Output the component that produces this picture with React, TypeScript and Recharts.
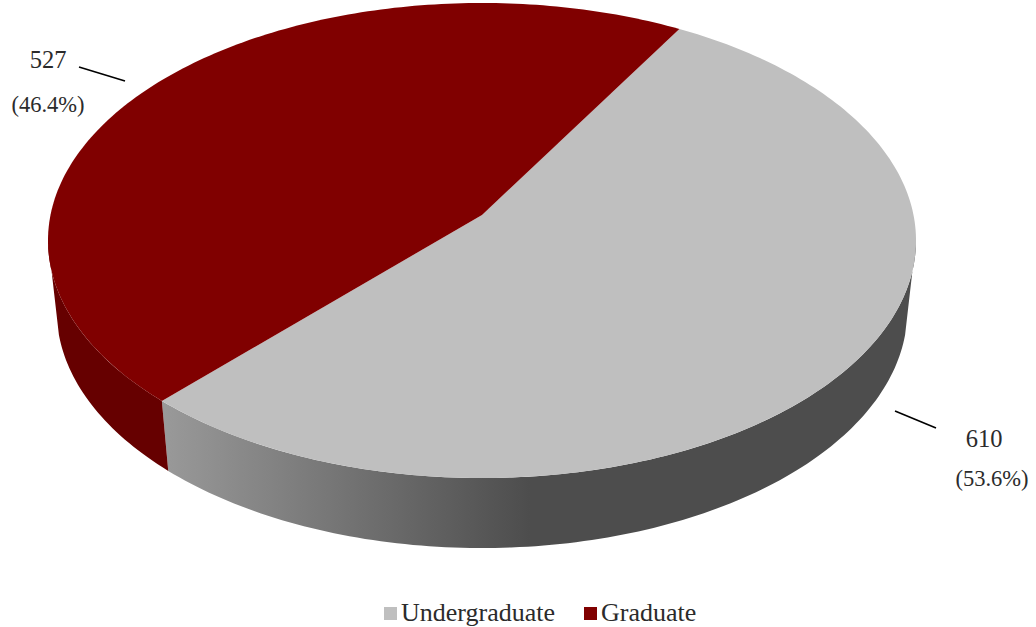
import { Legend, Pie, PieChart } from "recharts";

const categories = ["Undergraduate", "Graduate"];
const counts = [610, 527];
const percentLabels = ["(53.6%)", "(46.4%)"];
const COLORS = ["#bfbfbf", "#800000"];

const rows = categories.map((name, i) => ({
  name,
  value: counts[i],
  fill: COLORS[i],
}));

const FONT = '"Liberation Serif", "Times New Roman", serif';
const TEXT_COLOR = "#2b2b2b";

// tilted disc: perspective projection of the unit circle
const CX = 482;
const CY = 215;
const PERSP = -0.1074;
const SCALE_Y = 211.7;
const DEPTH = 70;
const BOTTOM_SHRINK = 0.98;

const toRad = (deg: number) => (deg * Math.PI) / 180;

const project = (angle: number, radius: number) => {
  const u = Math.cos(toRad(angle));
  const v = -Math.sin(toRad(angle));
  const w = 1 + PERSP * v;
  return {
    x: CX + (radius * u) / w,
    y: (CY + SCALE_Y * v) / w,
  };
};

const arcPoints = (from: number, to: number, radius: number) => {
  const steps = Math.max(2, Math.ceil(Math.abs(to - from)));
  const pts: { x: number; y: number }[] = [];
  for (let i = 0; i <= steps; i++) {
    pts.push(project(from + ((to - from) * i) / steps, radius));
  }
  return pts;
};

const toPath = (pts: { x: number; y: number }[]) =>
  "M" + pts.map((p) => `${p.x.toFixed(2)},${p.y.toFixed(2)}`).join("L") + "Z";

// eslint-disable-next-line @typescript-eslint/no-explicit-any
const DiscSlice = (props: any) => {
  const { startAngle, endAngle, outerRadius, fill, index } = props;
  const top = arcPoints(startAngle, endAngle, outerRadius);

  // front wall only; the rim starts at the widest point of the top ellipse
  // and the bottom edge a little lower, so the silhouette has no step
  const upper = arcPoints(
    Math.min(startAngle, -6),
    Math.max(endAngle, -174),
    outerRadius
  );
  const lower = arcPoints(
    Math.min(startAngle, -12),
    Math.max(endAngle, -168),
    outerRadius
  )
    .map((p) => ({
      x: CX + (p.x - CX) * BOTTOM_SHRINK,
      y: p.y + DEPTH,
    }))
    .reverse();

  return (
    <g>
      <path
        d={toPath([...upper, ...lower])}
        fill={index === 0 ? "url(#wallGray)" : "#660000"}
      />
      <path d={toPath([{ x: CX, y: CY }, ...top])} fill={fill} />
    </g>
  );
};

const LEADERS = [
  [895, 411, 936, 428],
  [79, 67, 125, 81],
];
const COUNT_POS = [
  [984, 447],
  [48, 68],
];
const PERCENT_POS = [
  [992, 486],
  [48, 112],
];

// eslint-disable-next-line @typescript-eslint/no-explicit-any
const SliceLabel = (props: any) => {
  const { index, value } = props;
  const [x1, y1, x2, y2] = LEADERS[index];
  return (
    <g>
      <line x1={x1} y1={y1} x2={x2} y2={y2} stroke="#000" strokeWidth={1.6} />
      <text
        x={COUNT_POS[index][0]}
        y={COUNT_POS[index][1]}
        textAnchor="middle"
        fill={TEXT_COLOR}
        fontSize={24.5}
        fontFamily={FONT}
      >
        {value}
      </text>
      <text
        x={PERCENT_POS[index][0]}
        y={PERCENT_POS[index][1]}
        textAnchor="middle"
        fill={TEXT_COLOR}
        fontSize={22.5}
        fontFamily={FONT}
      >
        {percentLabels[index]}
      </text>
    </g>
  );
};

// eslint-disable-next-line @typescript-eslint/no-explicit-any
const LegendRow = ({ payload }: any) => (
  <div
    style={{
      display: "flex",
      fontFamily: FONT,
      fontSize: 26,
      lineHeight: "28px",
      color: TEXT_COLOR,
    }}
  >
    {/* eslint-disable-next-line @typescript-eslint/no-explicit-any */}
    {(payload || []).map((item: any, i: number) => (
      <div
        key={i}
        style={{ display: "flex", alignItems: "center", marginRight: 29 }}
      >
        <span
          style={{
            width: 13,
            height: 13,
            background: item.color,
            marginRight: 4,
          }}
        />
        <span>{item.value}</span>
      </div>
    ))}
  </div>
);

export default function App() {
  return (
    <div style={{ position: "absolute", left: 0, top: 0 }}>
      <PieChart
        width={1036}
        height={627}
        margin={{ top: 0, right: 0, bottom: 0, left: 0 }}
      >
        <defs>
          <linearGradient
            id="wallGray"
            gradientUnits="userSpaceOnUse"
            x1={165}
            y1={0}
            x2={530}
            y2={0}
          >
            <stop offset="0%" stopColor="#999999" />
            <stop offset="100%" stopColor="#4d4d4d" />
          </linearGradient>
        </defs>
        <Pie
          data={rows}
          dataKey="value"
          nameKey="name"
          cx={CX}
          cy={CY}
          innerRadius={0}
          outerRadius={431.5}
          startAngle={60}
          endAngle={-300}
          stroke="none"
          shape={DiscSlice}
          label={SliceLabel}
          labelLine={false}
          isAnimationActive={false}
        />
        <Legend
          content={LegendRow}
          itemSorter={null}
          wrapperStyle={{ left: 384, top: 599, width: 400 }}
        />
      </PieChart>
    </div>
  );
}
